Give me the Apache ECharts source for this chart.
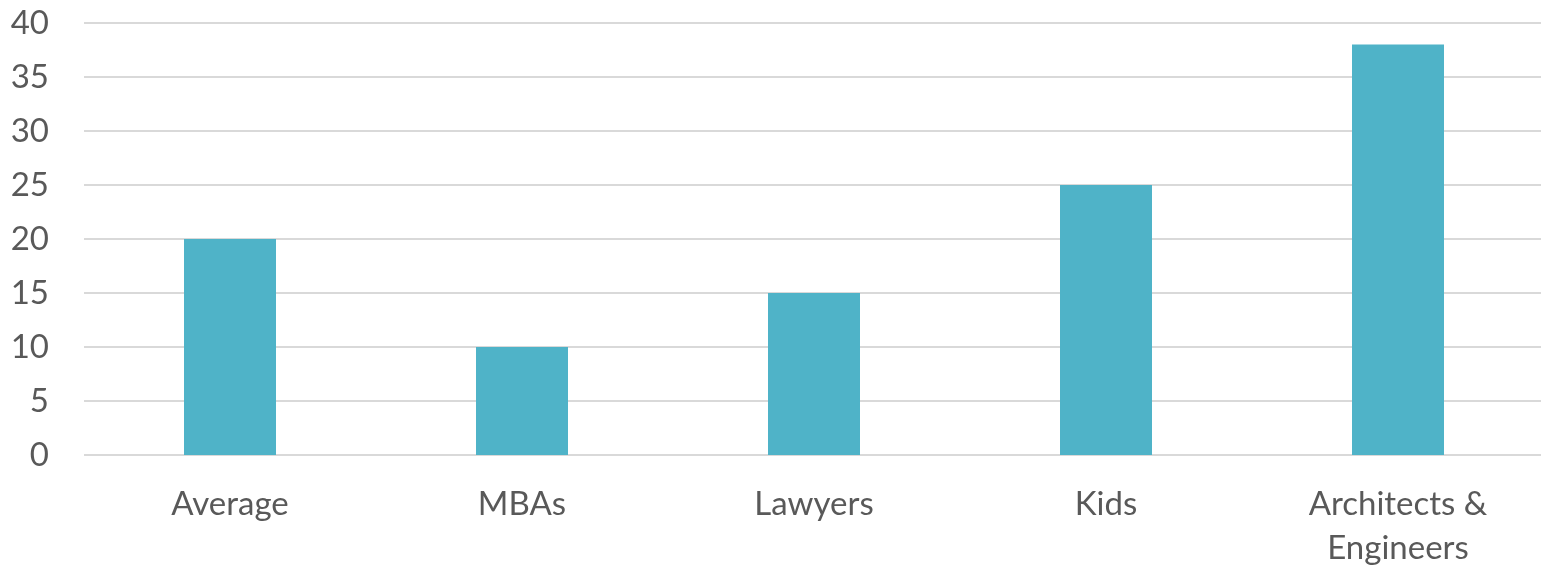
<!DOCTYPE html>
<html>
<head>
<meta charset="utf-8">
<script src="https://cdn.jsdelivr.net/npm/echarts@6/dist/echarts.min.js"></script>
<style>
  html, body { margin: 0; padding: 0; background: #fff; }
  #chart { width: 1541px; height: 567px; }
</style>
</head>
<body>
<div id="chart"></div>
<script>
// 数据
const categories = ['Average', 'MBAs', 'Lawyers', 'Kids', 'Architects &\nEngineers'];
const values = [20, 10, 15, 25, 38];
const yTicks = [0, 5, 10, 15, 20, 25, 30, 35, 40];

let barChart = echarts.init(document.getElementById('chart'));
let option = {
  animation: false,
  grid: { left: 84, top: 23, width: 1460, height: 432, outerBoundsMode: 'none', containLabel: false },
  xAxis: {
    type: 'category',
    data: categories,
    axisLine: { show: false },
    axisTick: { show: false },
    axisLabel: {
      color: '#595959',
      fontFamily: 'Lato',
      fontSize: 33,
      lineHeight: 44,
      margin: 27,
      interval: 0
    }
  },
  yAxis: {
    type: 'value',
    min: yTicks[0],
    max: yTicks[yTicks.length - 1],
    interval: 5,
    axisLine: { show: false },
    axisTick: { show: false },
    splitLine: { lineStyle: { color: '#d9d9d9', width: 2 } },
    axisLabel: {
      color: '#595959',
      fontFamily: 'Lato',
      fontSize: 33,
      margin: 35
    }
  },
  series: [{
    type: 'bar',
    data: values,
    barWidth: 92,
    itemStyle: { color: '#4fb3c8' }
  }]
};
barChart.setOption(option);
</script>
</body>
</html>
